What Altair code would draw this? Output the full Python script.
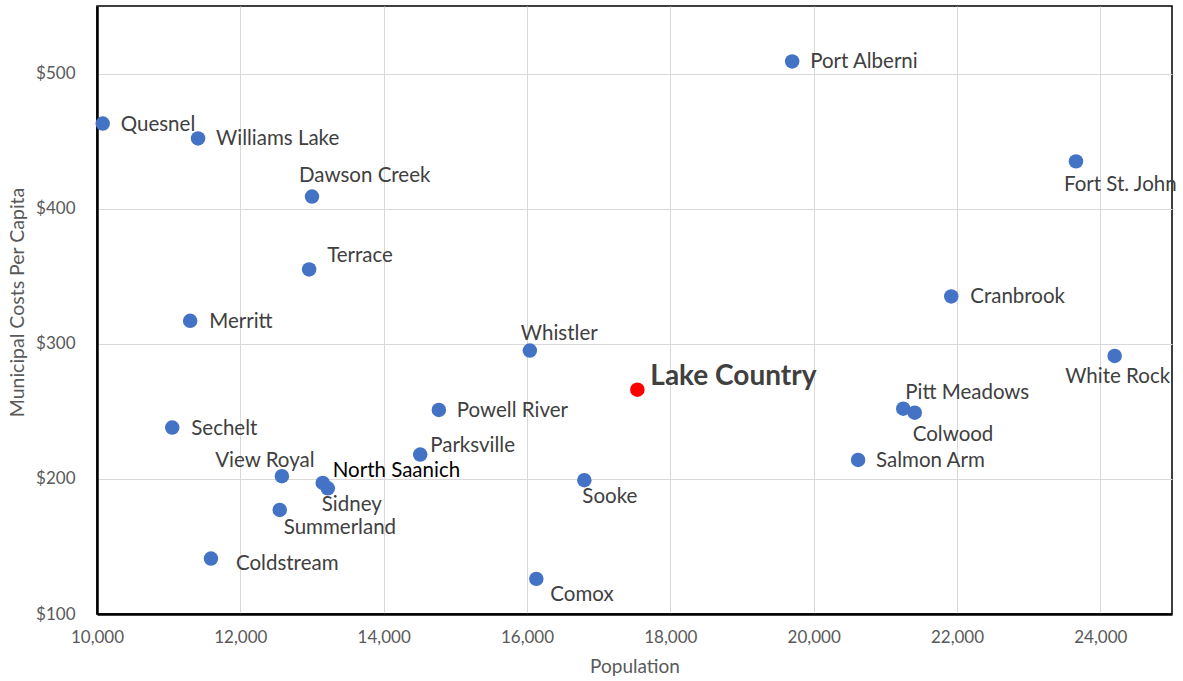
import altair as alt
import pandas as pd

# ---- data ----
names = ["Quesnel", "Williams Lake", "Dawson Creek", "Terrace", "Merritt", "Sechelt",
         "View Royal", "North Saanich", "Sidney", "Summerland", "Coldstream", "Parksville",
         "Powell River", "Whistler", "Comox", "Sooke", "Lake Country", "Port Alberni",
         "Fort St. John", "Cranbrook", "White Rock", "Pitt Meadows", "Colwood", "Salmon Arm"]
population = [10080, 11410, 13000, 12960, 11300, 11050,
              12580, 13150, 13220, 12550, 11590, 14510,
              14770, 16040, 16130, 16800, 17540, 19700,
              23660, 21920, 24200, 21250, 21410, 20620]
cost_per_capita = [463, 452, 409, 355, 317, 238,
                   202, 197, 193, 177, 141, 218,
                   251, 295, 126, 199, 266, 509,
                   435, 335, 291, 252, 249, 214]
highlight = "Lake Country"

x_ticks = [10000, 12000, 14000, 16000, 18000, 20000, 22000, 24000]
y_ticks = [100, 200, 300, 400, 500]

# ---- label layout (manually placed labels, pixel nudges from each point) ----
label_layout = {
    "Quesnel": (18, 1, "left"), "Williams Lake": (18, 1, "left"),
    "Dawson Creek": (-13, -21, "left"), "Terrace": (18, -13, "left"),
    "Merritt": (19, 1, "left"), "Sechelt": (19, 1, "left"),
    "View Royal": (-17, -15, "center"), "North Saanich": (10, -12, "left"),
    "Sidney": (-6, 17, "left"), "Summerland": (4, 18, "left"),
    "Coldstream": (25, 5, "left"), "Parksville": (10, -9, "left"),
    "Powell River": (18, 1, "left"), "Whistler": (-9, -17, "left"),
    "Comox": (14, 16, "left"), "Sooke": (-2, 17, "left"),
    "Lake Country": (13, -13, "left"), "Port Alberni": (18, 1, "left"),
    "Fort St. John": (-12, 24, "left"), "Cranbrook": (19, 1, "left"),
    "White Rock": (3, 21, "center"), "Pitt Meadows": (2, -16, "left"),
    "Colwood": (-2, 22, "left"), "Salmon Arm": (18, 1, "left"),
}

df = pd.DataFrame({"name": names, "population": population, "cost": cost_per_capita})
df["group"] = ["highlight" if n == highlight else "other" for n in names]

FONT = "Lato"

x_enc = alt.X("population:Q",
              scale=alt.Scale(domain=[10000, 25000], nice=False, zero=False),
              axis=alt.Axis(values=x_ticks, labelExpr="format(datum.value, ',')", title="Population",
                            labelFontSize=17, labelColor="#595959", labelPadding=15, labelFlush=False,
                            titleFontSize=19, titleColor="#595959", titleFontWeight="normal",
                            titlePadding=12, ticks=False, grid=True, gridColor="#d9d9d9",
                            domainColor="black", domainWidth=2.5, labelFont=FONT, titleFont=FONT))
y_enc = alt.Y("cost:Q",
              scale=alt.Scale(domain=[100, 550], nice=False, zero=False),
              axis=alt.Axis(values=y_ticks, labelExpr="'$' + format(datum.value, ',')",
                            title="Municipal Costs Per Capita", labelFlush=False,
                            labelFontSize=17, labelColor="#595959", labelPadding=22,
                            titleFontSize=19.5, titleColor="#595959", titleFontWeight="normal",
                            titlePadding=8, titleY=296, ticks=False, grid=True, gridColor="#d9d9d9",
                            domainColor="black", domainWidth=2.5, labelFont=FONT, titleFont=FONT))

base = alt.Chart(df)

points = base.mark_circle(size=210, opacity=1).encode(
    x=x_enc, y=y_enc,
    color=alt.Color("group:N", scale=alt.Scale(domain=["other", "highlight"],
                                               range=["#4472C4", "#FF0000"]), legend=None),
)

layers = [points]
for n in names:
    dx, dy, align = label_layout[n]
    if n == highlight:
        props = dict(fontSize=28, fontWeight="bold", color="#404040")
    elif n == "North Saanich":
        props = dict(fontSize=20.5, color="#000000")
    else:
        props = dict(fontSize=20.5, color="#404040")
    layers.append(
        base.transform_filter(alt.datum.name == n).mark_text(
            dx=dx, dy=dy, align=align, baseline="middle", font=FONT, **props
        ).encode(x=x_enc, y=y_enc, text="name:N")
    )

chart = alt.layer(*layers).properties(
    width=1075, height=608,
    autosize=alt.AutoSizeParams(type="none"),
    padding={"left": 97, "top": 6, "right": 11, "bottom": 67},
    background="white",
).configure_view(stroke="black", strokeWidth=1.5)

chart.save("out.html", embed_options={"renderer": "svg", "actions": False})
